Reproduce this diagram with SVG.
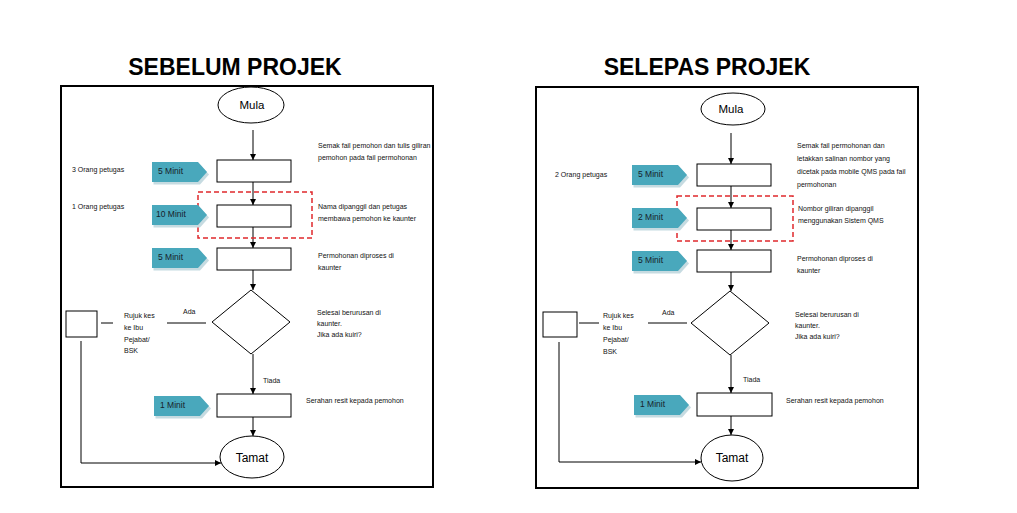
<svg xmlns="http://www.w3.org/2000/svg" xmlns:xlink="http://www.w3.org/1999/xlink" width="1017" height="513" viewBox="0 0 1017 513">
<style>
.frame{fill:none;stroke:#000;stroke-width:2}
.box{fill:#fff;stroke:#000;stroke-width:1}
.conn{fill:none;stroke:#000;stroke-width:1}
.dash{fill:none;stroke:#e0282c;stroke-width:1.5;stroke-dasharray:5 3}
.t{font-family:"Liberation Sans",Arial,sans-serif;font-size:7px;fill:#111}
.title{font-family:"Liberation Sans",Arial,sans-serif;font-size:23px;font-weight:bold;fill:#000;text-anchor:middle}
.term{font-family:"Liberation Sans",Arial,sans-serif;font-size:11.5px;fill:#000;text-anchor:middle}
.bt{font-family:"Liberation Sans",Arial,sans-serif;font-size:8.5px;fill:#17212b}
.bmain{fill:#49a8bc}
.bshadow{fill:#c6dbe1}
</style>
<defs>
<marker id="ah" markerWidth="6" markerHeight="6" refX="6" refY="3" orient="auto" markerUnits="userSpaceOnUse">
<path d="M0,0 L6,3 L0,6 Z" fill="#000"/>
</marker>
<g id="badge">
<path class="bshadow" d="M1.5,2.5 H48 L57,12.5 L48,22.5 H1.5 Z"/>
<path class="bmain" d="M0,0 H46 L55,10 L46,20 H0 Z"/>
</g>
</defs>
<rect width="1017" height="513" fill="#fff"/>

<text class="title" x="235" y="75">SEBELUM PROJEK</text>
<text class="title" x="707" y="75">SELEPAS PROJEK</text>

<rect class="frame" x="61" y="86" width="372" height="401"/>
<rect class="frame" x="536" y="87" width="382" height="401"/>

<!-- LEFT PANEL -->
<g id="connectors-left">
<line class="conn" x1="253" y1="130" x2="253" y2="160" marker-end="url(#ah)"/>
<line class="conn" x1="253" y1="182" x2="253" y2="205" marker-end="url(#ah)"/>
<line class="conn" x1="253" y1="227" x2="253" y2="248" marker-end="url(#ah)"/>
<line class="conn" x1="253" y1="270" x2="253" y2="290" marker-end="url(#ah)"/>
<line class="conn" x1="253" y1="354" x2="253" y2="394" marker-end="url(#ah)"/>
<line class="conn" x1="253" y1="417" x2="253" y2="436" marker-end="url(#ah)"/>
<line class="conn" x1="101" y1="323" x2="113" y2="323"/>
<line class="conn" x1="167" y1="323" x2="206" y2="323"/>
<path class="conn" d="M81,341 V463 H221" marker-end="url(#ah)"/>
</g>
<g id="L-mula"><ellipse class="box" cx="251" cy="105" rx="33" ry="18"/><text class="term" x="252" y="109">Mula</text></g>
<g id="L-step1"><rect class="box" x="217" y="160" width="74" height="22"/></g>
<g id="L-step2"><rect class="box" x="217" y="205" width="74" height="22"/></g>
<g id="L-step3"><rect class="box" x="217" y="248" width="74" height="22"/></g>
<g id="L-decision"><polygon class="box" points="251,290 290,322 251,354 212,322"/></g>
<g id="L-step4"><rect class="box" x="217" y="394" width="74" height="23"/></g>
<g id="L-refer"><rect class="box" x="66" y="311" width="31" height="26"/></g>
<g id="L-tamat"><ellipse class="box" cx="252" cy="457" rx="32" ry="21"/><text class="term" x="252" y="462" style="font-size:12px">Tamat</text></g>
<g id="L-highlight"><rect class="dash" x="198" y="192" width="114" height="46"/></g>
<g id="L-badges">
<use xlink:href="#badge" x="152" y="162"/><text class="bt" x="158" y="174">5 Minit</text>
<use xlink:href="#badge" x="152" y="205"/><text class="bt" x="156" y="217">10 Minit</text>
<use xlink:href="#badge" x="152" y="248"/><text class="bt" x="158" y="260">5 Minit</text>
<use xlink:href="#badge" x="154" y="396"/><text class="bt" x="160" y="408">1 Minit</text>
</g>
<g id="L-labels">
<text class="t" x="72" y="172">3 Orang petugas</text>
<text class="t" x="72" y="209">1 Orang petugas</text>
<text class="t" x="318" y="148">Semak fail pemohon dan tulis giliran</text>
<text class="t" x="318" y="160">pemohon pada fail permohonan</text>
<text class="t" x="318" y="209">Nama dipanggil dan petugas</text>
<text class="t" x="318" y="221">membawa pemohon ke kaunter</text>
<text class="t" x="318" y="258">Permohonan diproses di</text>
<text class="t" x="318" y="270">kaunter</text>
<text class="t" x="317" y="315">Selesai berurusan di</text>
<text class="t" x="317" y="326">kaunter.</text>
<text class="t" x="317" y="337">Jika ada kuiri?</text>
<text class="t" x="183" y="314">Ada</text>
<text class="t" x="124" y="318">Rujuk kes</text>
<text class="t" x="124" y="330">ke  Ibu</text>
<text class="t" x="124" y="342">Pejabat/</text>
<text class="t" x="124" y="353">BSK</text>
<text class="t" x="263" y="383">Tiada</text>
<text class="t" x="306" y="403">Serahan resit kepada pemohon</text>
</g>

<!-- RIGHT PANEL -->
<g id="connectors-right">
<line class="conn" x1="731" y1="133" x2="731" y2="164" marker-end="url(#ah)"/>
<line class="conn" x1="731" y1="186" x2="731" y2="208" marker-end="url(#ah)"/>
<line class="conn" x1="731" y1="230" x2="731" y2="250" marker-end="url(#ah)"/>
<line class="conn" x1="731" y1="272" x2="731" y2="291" marker-end="url(#ah)"/>
<line class="conn" x1="731" y1="355" x2="731" y2="393" marker-end="url(#ah)"/>
<line class="conn" x1="731" y1="416" x2="731" y2="435" marker-end="url(#ah)"/>
<line class="conn" x1="579" y1="323" x2="599" y2="323"/>
<line class="conn" x1="648" y1="323" x2="687" y2="323"/>
<path class="conn" d="M559,342 V462 H701" marker-end="url(#ah)"/>
</g>
<g id="R-mula"><ellipse class="box" cx="733" cy="109" rx="32" ry="16"/><text class="term" x="731" y="113">Mula</text></g>
<g id="R-step1"><rect class="box" x="697" y="164" width="74" height="22"/></g>
<g id="R-step2"><rect class="box" x="697" y="208" width="74" height="22"/></g>
<g id="R-step3"><rect class="box" x="697" y="250" width="74" height="22"/></g>
<g id="R-decision"><polygon class="box" points="730,291 769,323 730,355 691,323"/></g>
<g id="R-step4"><rect class="box" x="697" y="393" width="75" height="23"/></g>
<g id="R-refer"><rect class="box" x="543" y="312" width="34" height="25"/></g>
<g id="R-tamat"><ellipse class="box" cx="732" cy="458" rx="31" ry="23"/><text class="term" x="732" y="462" style="font-size:12px">Tamat</text></g>
<g id="R-highlight"><rect class="dash" x="677" y="196" width="116" height="45"/></g>
<g id="R-badges">
<use xlink:href="#badge" x="632" y="165"/><text class="bt" x="638" y="177">5 Minit</text>
<use xlink:href="#badge" x="632" y="208"/><text class="bt" x="638" y="220">2 Minit</text>
<use xlink:href="#badge" x="632" y="251"/><text class="bt" x="638" y="263">5 Minit</text>
<use xlink:href="#badge" x="634" y="395"/><text class="bt" x="640" y="407">1 Minit</text>
</g>
<g id="R-labels">
<text class="t" x="555" y="177">2 Orang petugas</text>
<text class="t" x="797" y="148">Semak fail permohonan dan</text>
<text class="t" x="797" y="161">letakkan salinan nombor yang</text>
<text class="t" x="797" y="174">dicetak pada mobile QMS pada fail</text>
<text class="t" x="797" y="187">permohonan</text>
<text class="t" x="798" y="211">Nombor giliran dipanggil</text>
<text class="t" x="798" y="223">menggunakan Sistem QMS</text>
<text class="t" x="797" y="261">Permohonan diproses di</text>
<text class="t" x="797" y="273">kaunter</text>
<text class="t" x="795" y="317">Selesai berurusan di</text>
<text class="t" x="795" y="328">kaunter.</text>
<text class="t" x="795" y="339">Jika ada kuiri?</text>
<text class="t" x="662" y="315">Ada</text>
<text class="t" x="603" y="318">Rujuk kes</text>
<text class="t" x="603" y="330">ke  Ibu</text>
<text class="t" x="603" y="342">Pejabat/</text>
<text class="t" x="603" y="354">BSK</text>
<text class="t" x="743" y="382">Tiada</text>
<text class="t" x="786" y="403">Serahan resit kepada pemohon</text>
</g>
</svg>
